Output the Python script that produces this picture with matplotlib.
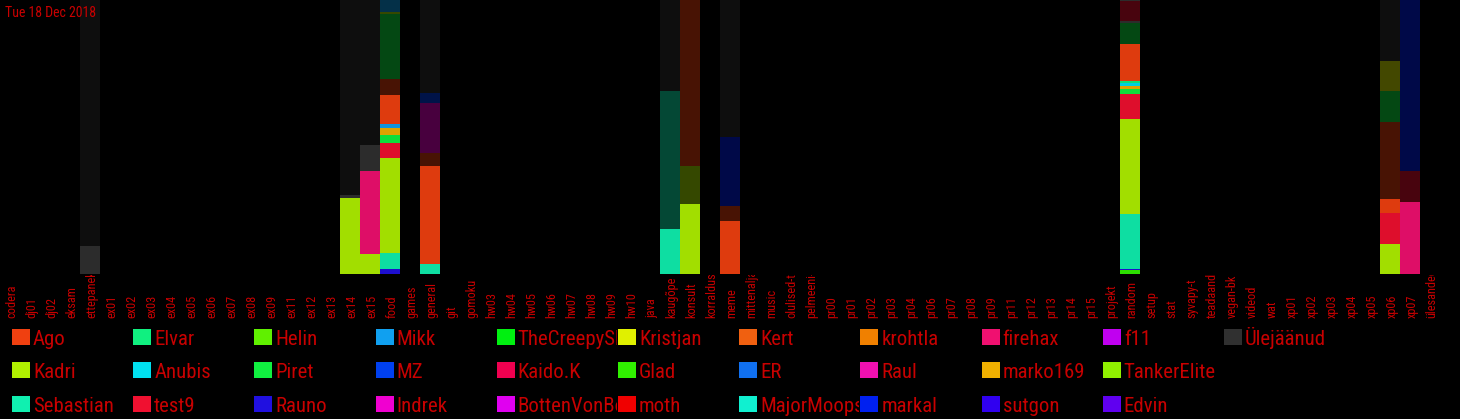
import matplotlib
matplotlib.use("Agg")
import matplotlib.pyplot as plt
from matplotlib.patches import Rectangle
from matplotlib.transforms import blended_transform_factory, Bbox
from matplotlib import font_manager as fm
from matplotlib.textpath import TextPath

title_text = "Tue 18 Dec 2018"

categories = ["codera", "dj01", "dj02", "eksam", "ettepanek", "ex01", "ex02", "ex03", "ex04",
              "ex05", "ex06", "ex07", "ex08", "ex09", "ex11", "ex12", "ex13", "ex14", "ex15",
              "food", "games", "general", "git", "gomoku", "hw03", "hw04", "hw05", "hw06",
              "hw07", "hw08", "hw09", "hw10", "java", "kaugõpe", "konsult", "korraldus",
              "meme", "mittenaljak", "music", "olulised-t", "pelmeeni-", "pr00", "pr01", "pr02",
              "pr03", "pr04", "pr06", "pr07", "pr08", "pr09", "pr11", "pr12", "pr13", "pr14",
              "pr15", "projekt", "random", "setup", "stat", "syvapy-t", "teadaand", "vegan-bk",
              "videod", "wat", "xp01", "xp02", "xp03", "xp04", "xp05", "xp06", "xp07", "ülesanded"]

# legend users (column-major order, 3 rows) and colours
users = ["Ago", "Kadri", "Sebastian", "Elvar", "Anubis", "test9", "Helin", "Piret", "Rauno",
         "Mikk", "MZ", "Indrek", "TheCreepySh", "Kaido.K", "BottenVonBot", "Kristjan", "Glad",
         "moth", "Kert", "ER", "MajorMoopsy", "krohtla", "Raul", "markal", "firehax",
         "marko169", "sutgon", "f11", "TankerElite", "Edvin", "Ülejäänud"]
user_colors = ["#f04010", "#b0f000", "#10f0b0", "#10f080", "#00e0f0", "#f01030", "#60f000",
               "#10f040", "#2010e0", "#10a0f0", "#0040f0", "#f000d0", "#00f010", "#f00050",
               "#e000f0", "#e0f000", "#30f000", "#f00000", "#f06010", "#1070f0", "#10f0d0",
               "#f08000", "#f010b0", "#0020f0", "#f01070", "#f0b000", "#3000f0", "#c000f0",
               "#90f000", "#6000f0", "#303030"]

# per-channel stacks, bottom to top: (user, share, earlier-period flag)
stack_ettepanek = [("Ülejäänud", 28, 0), ("Ülejäänud", 246, 1)]
stack_ex14 = [("Kadri", 76, 0), ("Ülejäänud", 3, 0), ("Ülejäänud", 195, 1)]
stack_ex15 = [("Kadri", 20, 0), ("firehax", 83, 0), ("Ülejäänud", 26, 0), ("Ülejäänud", 145, 1)]
stack_food = [("Rauno", 5, 0), ("Sebastian", 16, 0), ("Kadri", 95, 0), ("test9", 15, 0),
              ("Piret", 8, 0), ("marko169", 7, 0), ("Mikk", 4, 0), ("Ago", 29, 0),
              ("Ago", 16, 1), ("Piret", 65, 1), ("Kadri", 2, 1), ("Mikk", 12, 1)]
stack_general = [("Sebastian", 10, 0), ("Ago", 98, 0), ("Ago", 13, 1), ("Indrek", 50, 1),
                 ("MZ", 10, 1), ("Ülejäänud", 93, 1)]
stack_kaugope = [("Sebastian", 45, 0), ("Sebastian", 138, 1), ("Ülejäänud", 91, 1)]
stack_konsult = [("Kadri", 70, 0), ("Kadri", 38, 1), ("Ago", 166, 1)]
stack_meme = [("Ago", 53, 0), ("Ago", 15, 1), ("markal", 69, 1), ("Ülejäänud", 137, 1)]
stack_random = [("Glad", 4, 0), ("Rauno", 1, 0), ("Sebastian", 55, 0), ("Kadri", 95, 0),
                ("test9", 25, 0), ("Piret", 5, 0), ("marko169", 3, 0), ("Anubis", 3, 0),
                ("Elvar", 2, 0), ("Ago", 37, 0), ("Piret", 21, 1), ("Ülejäänud", 2, 0),
                ("test9", 20, 1), ("Ülejäänud", 1, 0)]
stack_xp06 = [("Kadri", 30, 0), ("test9", 31, 0), ("Ago", 14, 0), ("Ago", 77, 1),
              ("Piret", 31, 1), ("Kristjan", 30, 1), ("Ülejäänud", 61, 1)]
stack_xp07 = [("firehax", 72, 0), ("test9", 31, 1), ("markal", 171, 1)]

stacks = {"ettepanek": stack_ettepanek, "ex14": stack_ex14, "ex15": stack_ex15,
          "food": stack_food, "general": stack_general, "kaugõpe": stack_kaugope,
          "konsult": stack_konsult, "meme": stack_meme, "random": stack_random,
          "xp06": stack_xp06, "xp07": stack_xp07}


# ---- pick the narrowest available font ----
def find_prop():
    cands = ["Roboto Condensed", "Open Sans Condensed", "Liberation Sans Narrow",
             "Noto Sans Condensed", "DejaVu Sans Condensed"]
    for f in cands:
        try:
            p = fm.FontProperties(family=f)
            path = fm.findfont(p, fallback_to_default=False)
            if path:
                return fm.FontProperties(fname=path)
        except Exception:
            pass
    try:
        p = fm.FontProperties(family="DejaVu Sans", stretch="condensed")
        path = fm.findfont(p, fallback_to_default=False)
        if "ondensed" in path:
            return fm.FontProperties(fname=path)
    except Exception:
        pass
    return fm.FontProperties(family="DejaVu Sans")


BASE = find_prop()


def fit_size(s, target_px, max_pt):
    w = TextPath((0, 0), s, size=1, prop=BASE).get_extents().width
    return min(max_pt, target_px * 72 / (100 * w))


def prop(size):
    p = BASE.copy()
    p.set_size(size)
    return p


legend_pt = fit_size("Sebastian", 79, 15.5)
tick_pt = fit_size("ettepanek", 47, 9.0)
title_pt = fit_size(title_text, 91, 11.0)

TEXT = "#c80000"
W, H = 1460, 419
fig = plt.figure(figsize=(W / 100, H / 100), dpi=100, facecolor="black")
ax = fig.add_axes([0, (H - 274) / H, 1440 / W, 274 / H], facecolor="black")

color_of = dict(zip(users, user_colors))
for name, stack in stacks.items():
    i = categories.index(name)
    total = sum(v for _, v, _ in stack)
    bottom = 0.0
    for user, v, dim in stack:
        h = v / total
        ax.bar(i, h, bottom=bottom, width=1.0, color=color_of[user],
               alpha=0.3 if dim else 0.93, linewidth=0)
        bottom += h

ax.set_xlim(-0.5, len(categories) - 0.5)
ax.set_ylim(0, 1)
ax.set_xticks([])
ax.set_yticks([])
for s in ax.spines.values():
    s.set_visible(False)

# category labels, rotated, clipped below the plot
trans = blended_transform_factory(ax.transData, fig.transFigure)
clip = Bbox.from_extents(0, 0, W, H - 275)
for i, c in enumerate(categories):
    t = ax.text(i + 0.1, 1 - 318 / H, c, rotation=90, ha="center", va="bottom",
                color=TEXT, fontproperties=prop(tick_pt), transform=trans, clip_on=True)
    t.set_clip_box(clip)

fig.text(5 / W, 1 - 13 / H, title_text, color=TEXT, fontproperties=prop(title_pt),
         va="center", ha="left")

# legend (column-major, 3 rows)
col_w = 121.2
row_y = [329, 362, 396]
for k, (u, col) in enumerate(zip(users, user_colors)):
    c, r = divmod(k, 3)
    x0 = 12 + c * col_w
    y0 = row_y[r]
    fig.add_artist(Rectangle((x0 / W, 1 - (y0 + 16) / H), 18 / W, 16 / H,
                             transform=fig.transFigure, facecolor=col, edgecolor="none"))
    t = fig.text((x0 + 21) / W, 1 - (y0 + 16) / H, u, color=TEXT,
                 fontproperties=prop(legend_pt), va="baseline", ha="left")
    t.set_clip_box(Bbox.from_extents(x0, 0, x0 + col_w - 1, H))
    t.set_clip_on(True)

fig.savefig("out.png", dpi=100, facecolor="black")
